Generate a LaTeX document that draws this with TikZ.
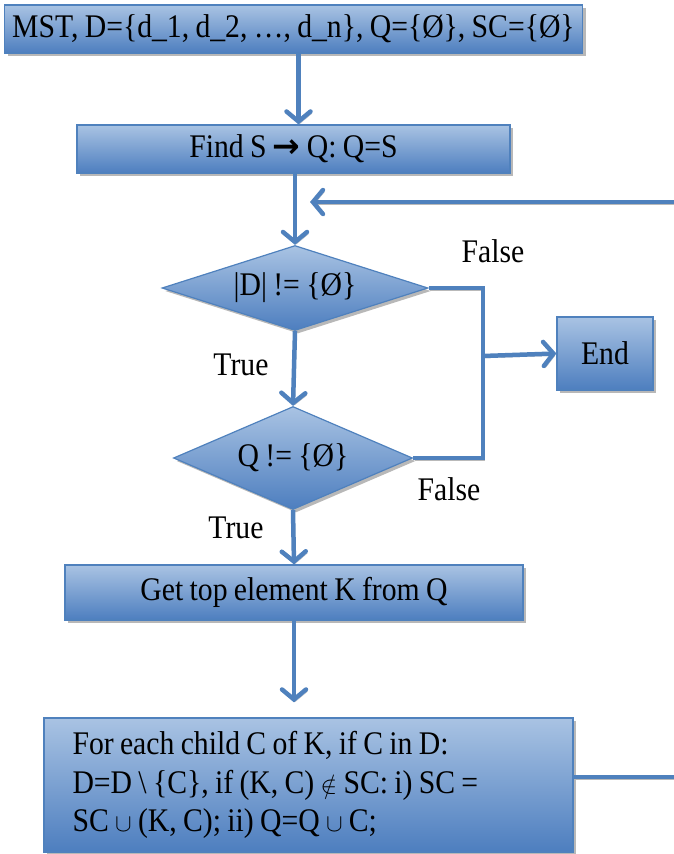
\documentclass[tikz,border=0pt]{standalone}
\usepackage{fontspec}
\setmainfont{Liberation Serif}[FakeStretch=0.9,WordSpace=0.85]
\newfontfamily\glyphfont{DejaVu Sans}
\usetikzlibrary{shapes.geometric,arrows.meta,shadows}
\definecolor{flowblue}{HTML}{4F81BD}
\definecolor{boxtop}{HTML}{A9C3E3}
\definecolor{boxbot}{HTML}{4D7EBF}
\tikzset{
  stepbox/.style={rectangle, draw=flowblue, line width=1.2pt, top color=boxtop, bottom color=boxbot,
    drop shadow={shadow xshift=3pt, shadow yshift=-3pt, fill=gray!70, opacity=0.8}, inner sep=0pt},
  testbox/.style={stepbox, diamond, aspect=2.8},
  flowline/.style={draw=flowblue, line width=4.5pt,
    preaction={draw=gray!55, transform canvas={shift={(1.5pt,-2pt)}}}},
  flow/.style={flowline, -{Straight Barb[length=10pt,width=24pt,line cap=round]}},
  lbl/.style={inner sep=0pt}
}
\begin{document}
\begin{tikzpicture}[x=1pt,y=-1pt,font=\fontsize{33}{38.5}\selectfont]
    \useasboundingbox (0,0) rectangle (674,854);
    \node[stepbox, minimum width=578pt, minimum height=48pt] (start) at (293.5,29) {MST, D=\{d\_1, d\_2, …, d\_n\}, Q=\{Ø\}, SC=\{Ø\}};
    \node[stepbox, minimum width=433pt, minimum height=48pt] (find) at (293.5,149) {Find S {\glyphfont\bfseries →} Q: Q=S};
    \node[testbox, minimum width=266pt, minimum height=85pt] (dtest) at (295,288) {|D| != \{Ø\}};
    \node[testbox, minimum width=239pt, minimum height=103pt] (qtest) at (293,458) {Q != \{Ø\}};
    \node[stepbox, minimum width=96pt, minimum height=73pt] (end) at (605,353.5) {End};
    \node[stepbox, minimum width=458pt, minimum height=55pt] (top) at (294,592.5) {Get top element K from Q};
    \node[stepbox, minimum width=529pt, minimum height=134pt, text width=472pt, align=flush left] (child) at (308.5,785)
      {For each child C of K, if C in D:\\ D=D \textbackslash{} \{C\}, if (K, C) $\notin$ SC: i) SC =\\ SC $\cup$ (K, C); ii) Q=Q $\cup$ C;};
    \node[lbl] (f1) at (493,251) {False};
    \node[lbl] (t1) at (241,365) {True};
    \node[lbl] (f2) at (449,489) {False};
    \node[lbl] (t2) at (236,528) {True};
    \coordinate (jn) at (483,356);
    \coordinate (fbin) at (674,202);
    \coordinate (fbtip) at (310,202);
    \coordinate (fbout) at (674,777);
    \draw[flow] ([xshift=5pt]start.south) -- ([xshift=5pt]find.north);
    \draw[flow] (find.south -| dtest.north) -- (dtest.north);
    \draw[flow] (fbin) -- (fbtip);
    \draw[flowline] (dtest.east) -| (jn) |- (qtest.east);
    \draw[flow] (jn) -- (end.west);
    \draw[flow] (dtest.south) -- (qtest.north);
    \draw[flow] (qtest.south) -- (top.north);
    \draw[flow, shorten >=15pt] (top.south) -- (top.south |- child.north);
    \draw[flowline] (child.east |- fbout) -- (fbout);
\end{tikzpicture}
\end{document}
